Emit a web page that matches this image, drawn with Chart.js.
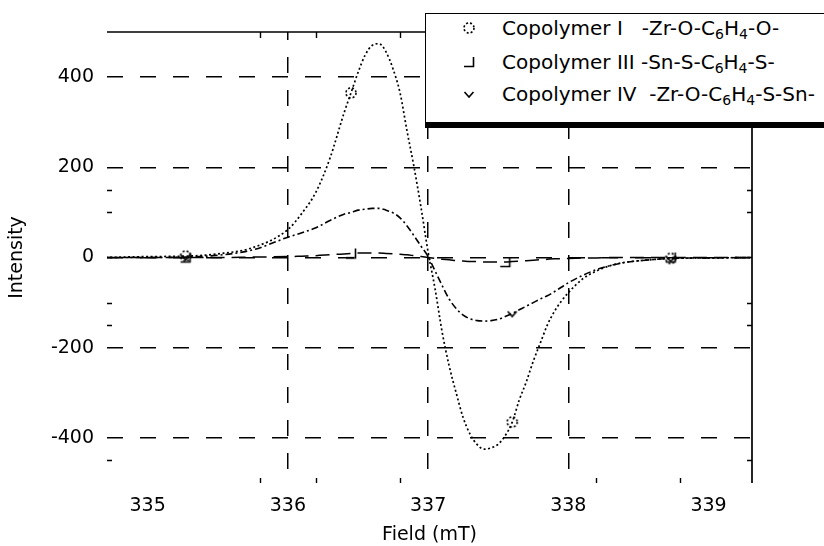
<!DOCTYPE html>
<html>
<head>
<meta charset="utf-8">
<title>EPR spectra</title>
<script src="https://cdn.jsdelivr.net/npm/chart.js@4.4.0/dist/chart.umd.min.js"></script>
<style>
    html, body { margin: 0; padding: 0; background: #fff; }
    #wrap { position: relative; width: 824px; height: 546px; overflow: hidden; }
    #legend {
        position: absolute; left: 425px; top: 13px; width: 440px; height: 108px;
        background: #fff; border: 1.5px solid #000; border-bottom: 6px solid #000;
        font-family: 'DejaVu Sans', sans-serif; font-size: 20px; color: #000;
    }
    .legend-row { position: absolute; left: 0; height: 24px; line-height: 24px; white-space: pre; }
    .legend-row canvas { position: absolute; left: 36px; top: 5px; }
    .legend-row span.txt { position: absolute; left: 76px; top: 0; }
    sub { font-size: 70%; vertical-align: -0.3em; line-height: 0; }
</style>
</head>
<body>
<div id="wrap">
    <canvas id="eprChart" width="824" height="546"></canvas>
    <div id="legend"></div>
</div>
<script>
// ==========================================
// DATA
// ==========================================

const field = [334.7, 335.0, 335.27, 335.5, 335.75, 336.0, 336.1, 336.2, 336.3, 336.4,
    336.45, 336.5, 336.55, 336.6, 336.65, 336.7, 336.75, 336.8, 336.85, 336.9,
    336.95, 337.0, 337.05, 337.1, 337.15, 337.2, 337.25, 337.3, 337.35, 337.4,
    337.45, 337.5, 337.55, 337.6, 337.65, 337.7, 337.75, 337.8, 337.85, 337.9,
    337.95, 338.0, 338.1, 338.2, 338.3, 338.4, 338.55, 338.73, 339.0, 339.31];

// Copolymer I  -Zr-O-C6H4-O-
const intensityI = [0, 2, 3, 8, 22, 62, 98, 145, 220, 320,
    365, 410, 448, 470, 474, 456, 418, 365, 280, 200,
    110, 12, -70, -165, -240, -300, -355, -392, -415, -425,
    -422, -414, -395, -365, -316, -276, -230, -190, -150, -120,
    -97, -78, -48, -30, -18, -11, -6, -2, -1, 0];

// Copolymer III  -Sn-S-C6H4-S-
const intensityIII = [0, 0, 0, 0, 1, 2, 3, 4, 6, 8,
    9, 10, 10, 10, 10, 9, 8, 7, 6, 4,
    2, 0, -2, -4, -5, -7, -8, -9, -9, -10,
    -10, -10, -10, -9, -8, -7, -6, -5, -4, -3,
    -3, -2, -1, -1, 0, 0, 0, 0, 0, 0];

// Copolymer IV  -Zr-O-C6H4-S-Sn-
const intensityIV = [0, 0, 1, 5, 17, 45, 55, 66, 82, 96,
    100, 105, 107, 109, 109, 105, 99, 88, 70, 48,
    25, 2, -30, -62, -92, -113, -128, -136, -140, -141,
    -140, -137, -131, -124, -116, -108, -100, -92, -85, -76,
    -66, -56, -40, -27, -18, -11, -6, -2, -1, 0];

// where the symbols sit on each curve
const markersI = [335.27, 336.45, 337.6, 338.73];
const markersIII = [335.27, 336.45, 337.55, 338.73];
const markersIV = [335.27, 337.6, 338.73];

const fieldTicks = [335, 336, 337, 338, 339];
const fieldGrid = [336, 337, 338];
const fieldMinorTicks = [335.8, 336.2, 336.8, 338.2, 338.8];
const intensityTicks = [-400, -200, 0, 200, 400];
const intensityMinorTicks = [150, 100, -100, -150, -450];

const seriesLabels = ['Copolymer I', 'Copolymer III', 'Copolymer IV'];
const seriesFormulas = [
    '-Zr-O-C<sub>6</sub>H<sub>4</sub>-O-',
    '-Sn-S-C<sub>6</sub>H<sub>4</sub>-S-',
    '-Zr-O-C<sub>6</sub>H<sub>4</sub>-S-Sn-'
];
const seriesGaps = ['   ', ' ', '  '];

const INK = '#000';
const FONT = "'DejaVu Sans', sans-serif";

// ==========================================
// MARKER SYMBOLS
// ==========================================

function makeMarker(kind) {
    const c = document.createElement('canvas');
    c.width = 14;
    c.height = 14;
    const g = c.getContext('2d');
    g.strokeStyle = INK;
    g.lineWidth = 1.6;
    g.beginPath();
    if (kind === 'circle') {
        g.setLineDash([2, 2]);
        g.arc(7, 7, 5, 0, Math.PI * 2);
    } else if (kind === 'corner') {
        g.moveTo(2, 11.5);
        g.lineTo(11.5, 11.5);
        g.lineTo(11.5, 2);
    } else {
        g.moveTo(2.5, 5);
        g.lineTo(7, 10);
        g.lineTo(11.5, 5);
    }
    g.stroke();
    return c;
}

const markerKinds = ['circle', 'corner', 'vee'];

function toPoints(values) {
    return field.map((f, i) => ({ x: f, y: values[i] }));
}

function markerRadius(list) {
    return ctx => (ctx.raw && list.includes(ctx.raw.x)) ? 6 : 0;
}

// ==========================================
// PLUGINS
// ==========================================

// top + right frame and the small inward ticks
const framePlugin = {
    id: 'frame',
    afterDraw(chart) {
        const { ctx, chartArea: a } = chart;
        const xs = chart.scales.x;
        const ys = chart.scales.y;
        ctx.save();
        ctx.strokeStyle = INK;
        ctx.lineWidth = 1.7;
        ctx.beginPath();
        ctx.moveTo(a.left, a.top);
        ctx.lineTo(a.right, a.top);
        ctx.lineTo(a.right, a.bottom);
        ctx.stroke();

        ctx.lineWidth = 1.4;
        ctx.beginPath();
        fieldMinorTicks.forEach(v => {
            const px = Math.round(xs.getPixelForValue(v)) + 0.5;
            ctx.moveTo(px, a.top);
            ctx.lineTo(px, a.top + 6);
            ctx.moveTo(px, a.bottom);
            ctx.lineTo(px, a.bottom - 5);
        });
        intensityMinorTicks.forEach(v => {
            const py = Math.round(ys.getPixelForValue(v)) + 0.5;
            ctx.moveTo(a.left, py);
            ctx.lineTo(a.left + 5, py);
            ctx.moveTo(a.right, py);
            ctx.lineTo(a.right - 5, py);
        });
        ctx.stroke();
        ctx.restore();
    }
};

// ==========================================
// CHART
// ==========================================

const datasetStyles = [
    { values: intensityI, marks: markersI, dash: [2, 2.5], width: 1.7 },
    { values: intensityIII, marks: markersIII, dash: [14, 7], width: 1.5 },
    { values: intensityIV, marks: markersIV, dash: [7, 3, 2, 3], width: 1.6 }
];

function initChart() {
    const ctx = document.getElementById('eprChart');

    const datasets = datasetStyles.map((s, i) => ({
        label: seriesLabels[i],
        data: toPoints(s.values),
        borderColor: INK,
        borderWidth: s.width,
        borderDash: s.dash,
        fill: false,
        cubicInterpolationMode: 'monotone',
        pointStyle: makeMarker(markerKinds[i]),
        pointRadius: markerRadius(s.marks),
        pointHoverRadius: 0
    }));

    new Chart(ctx, {
        type: 'line',
        data: { datasets: datasets },
        options: {
            responsive: false,
            animation: false,
            events: [],
            layout: { padding: { top: 32, right: 72, bottom: 0, left: 0 } },
            plugins: {
                legend: { display: false },
                tooltip: { enabled: false }
            },
            scales: {
                x: {
                    type: 'linear',
                    min: 334.71,
                    max: 339.31,
                    afterBuildTicks: scale => { scale.ticks = fieldTicks.map(v => ({ value: v })); },
                    afterFit: scale => { scale.height = 63; },
                    grid: {
                        drawTicks: false,
                        lineWidth: 1.5,
                        color: c => fieldGrid.includes(c.tick && c.tick.value) ? INK : 'rgba(0,0,0,0)'
                    },
                    border: { display: false, dash: [16, 17], dashOffset: 8 },
                    ticks: {
                        color: INK,
                        padding: 12,
                        font: { family: FONT, size: 19 },
                        callback: v => v
                    },
                    title: {
                        display: true,
                        text: 'Field (mT)',
                        color: INK,
                        font: { family: FONT, size: 19, lineHeight: 1 },
                        padding: { top: 0, bottom: 1 }
                    }
                },
                y: {
                    min: -500,
                    max: 500,
                    afterBuildTicks: scale => { scale.ticks = intensityTicks.map(v => ({ value: v })); },
                    afterFit: scale => { scale.width = 107; },
                    grid: { drawTicks: false, lineWidth: 1.5, color: INK },
                    border: { display: false, dash: [16, 17], dashOffset: 0 },
                    ticks: {
                        color: INK,
                        padding: 13,
                        font: { family: FONT, size: 19 }
                    },
                    title: {
                        display: true,
                        text: 'Intensity',
                        color: INK,
                        font: { family: FONT, size: 19, lineHeight: 1 },
                        padding: { top: 8, bottom: 0 }
                    }
                }
            }
        },
        plugins: [framePlugin]
    });
}

// custom boxed legend like the original figure
function createLegend() {
    const box = document.getElementById('legend');
    const rowTops = [1.5, 35.5, 68];
    seriesLabels.forEach((label, i) => {
        const row = document.createElement('div');
        row.className = 'legend-row';
        row.style.top = rowTops[i] + 'px';
        row.appendChild(makeMarker(markerKinds[i]));
        const txt = document.createElement('span');
        txt.className = 'txt';
        txt.innerHTML = label + seriesGaps[i] + seriesFormulas[i];
        row.appendChild(txt);
        box.appendChild(row);
    });
}

document.addEventListener('DOMContentLoaded', function() {
    initChart();
    createLegend();
});
</script>
</body>
</html>
